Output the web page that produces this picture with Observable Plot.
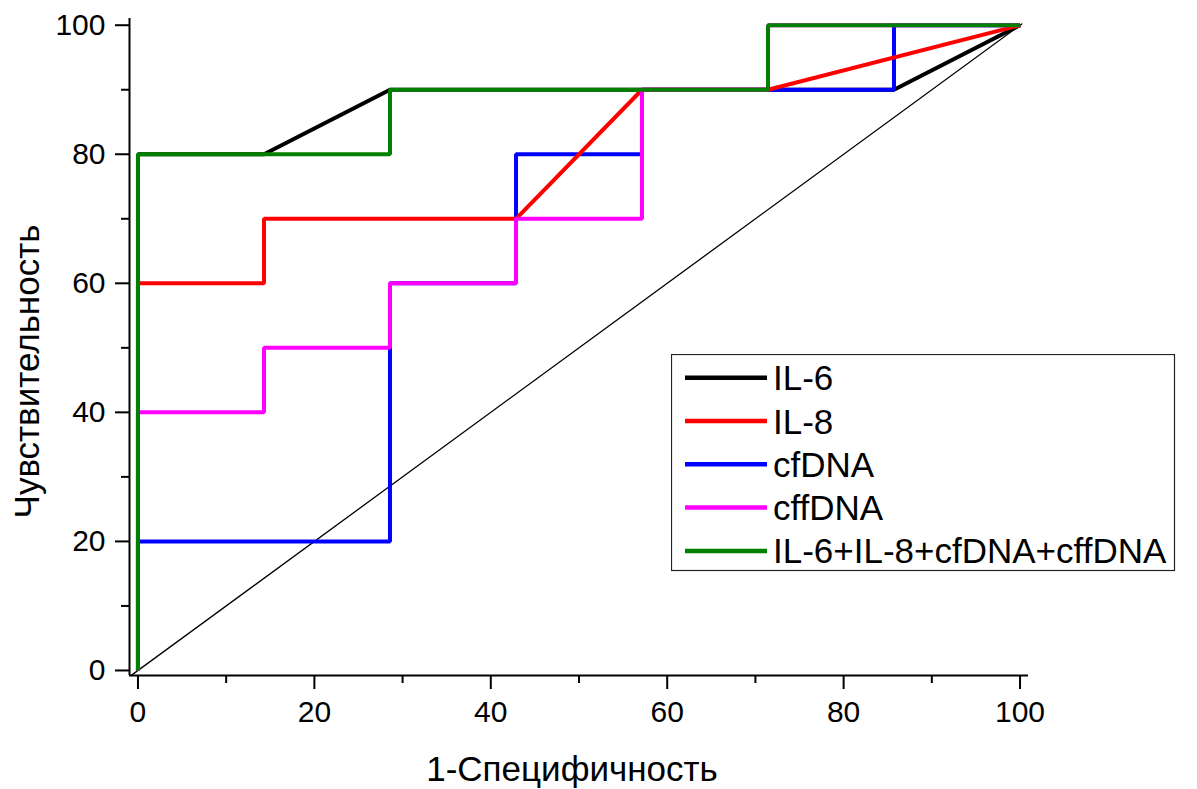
<!DOCTYPE html>
<html>
<head>
<meta charset="utf-8">
<script src="https://cdn.jsdelivr.net/npm/d3@7"></script>
<script src="https://cdn.jsdelivr.net/npm/@observablehq/plot@0.6"></script>
<style>
  html, body { margin: 0; padding: 0; background: #fff; }
  #wrap { position: relative; width: 1197px; height: 789px; }
  #legend { position: absolute; left: 671px; top: 354px; }
</style>
</head>
<body>
<div id="wrap"></div>
<script>
// ---- data ----
const seriesNames = ["IL-6", "IL-8", "cfDNA", "cffDNA", "IL-6+IL-8+cfDNA+cffDNA"];
const seriesColors = ["#000000", "#ff0000", "#0000ff", "#ff00ff", "#008000"];

const il6X = [0, 0, 14.29, 28.57, 85.71, 100];
const il6Y = [0, 80, 80, 90, 90, 100];
const il8X = [0, 0, 14.29, 14.29, 42.86, 57.14, 71.43, 100];
const il8Y = [0, 60, 60, 70, 70, 90, 90, 100];
const cfdnaX = [0, 0, 28.57, 28.57, 42.86, 42.86, 57.14, 57.14, 85.71, 85.71, 100];
const cfdnaY = [0, 20, 20, 60, 60, 80, 80, 90, 90, 100, 100];
const cffdnaX = [0, 0, 14.29, 14.29, 28.57, 28.57, 42.86, 42.86, 57.14, 57.14, 71.43, 71.43, 100];
const cffdnaY = [0, 40, 40, 50, 50, 60, 60, 70, 70, 90, 90, 100, 100];
const comboX = [0, 0, 28.57, 28.57, 71.43, 71.43, 100];
const comboY = [0, 80, 80, 90, 90, 100, 100];

const diagX = [-0.8, 100.2];
const diagY = [-0.8, 100.2];

const majorTicks = [0, 20, 40, 60, 80, 100];
const minorTicks = [10, 30, 50, 70, 90];

const xTitle = "1-Специфичность";
const yTitle = "Чувствительность";

// ---- build table (draw order: black, blue, red, magenta, green) ----
const seriesXY = {
  "IL-6": [il6X, il6Y],
  "IL-8": [il8X, il8Y],
  "cfDNA": [cfdnaX, cfdnaY],
  "cffDNA": [cffdnaX, cffdnaY],
  "IL-6+IL-8+cfDNA+cffDNA": [comboX, comboY]
};
const drawOrder = ["IL-6", "cfDNA", "IL-8", "cffDNA", "IL-6+IL-8+cfDNA+cffDNA"];
const rows = [];
for (const s of drawOrder) {
  const [xs, ys] = seriesXY[s];
  xs.forEach((x, i) => rows.push({series: s, x, y: ys[i]}));
}
const diag = diagX.map((x, i) => ({x, y: diagY[i]}));

const xDomain = [-0.96, 100.96];
const yDomain = [-0.78, 101.04];
const font = "'Liberation Sans', Arial, Helvetica, sans-serif";

const chart = Plot.plot({
  width: 1197,
  height: 789,
  marginLeft: 129,
  marginRight: 169,
  marginTop: 18,
  marginBottom: 114,
  style: {fontFamily: font, fontSize: "30px", color: "#000", background: "#fff", overflow: "visible"},
  x: {domain: xDomain, axis: null},
  y: {domain: yDomain, axis: null},
  color: {domain: seriesNames, range: seriesColors},
  marks: [
    Plot.line(diag, {x: "x", y: "y", stroke: "#000", strokeWidth: 1.3}),
    Plot.line(rows, {x: "x", y: "y", z: "series", stroke: "series", strokeWidth: 4, strokeLinejoin: "miter", strokeLinecap: "butt"}),
    Plot.ruleX([xDomain[0]], {stroke: "#000", strokeWidth: 2}),
    Plot.ruleY([yDomain[0]], {stroke: "#000", strokeWidth: 2}),
    Plot.axisX(majorTicks, {anchor: "bottom", tickSize: 14, tickPadding: 11, strokeWidth: 2, fontSize: 30, label: null, tickFormat: d => String(d)}),
    Plot.axisX(minorTicks, {anchor: "bottom", tickSize: 8, strokeWidth: 2, label: null, tickFormat: () => ""}),
    Plot.axisY(majorTicks, {anchor: "left", tickSize: 14, tickPadding: 10, strokeWidth: 2, fontSize: 30, label: null, tickFormat: d => String(d)}),
    Plot.axisY(minorTicks, {anchor: "left", tickSize: 8, strokeWidth: 2, label: null, tickFormat: () => ""}),
    Plot.text([xTitle], {text: d => d, frameAnchor: "bottom", textAnchor: "middle", lineAnchor: "middle", dx: -7, dy: 94, fontSize: 35}),
    Plot.text([yTitle], {text: d => d, frameAnchor: "left", textAnchor: "middle", lineAnchor: "middle", rotate: -90, dx: -102, dy: 24.5, fontSize: 35})
  ]
});

const wrap = document.getElementById("wrap");
wrap.appendChild(chart);

// ---- legend overlay ----
const lw = 505, lh = 218;
const leg = d3.select(wrap).append("svg")
  .attr("id", "legend")
  .attr("width", lw).attr("height", lh)
  .style("font-family", font);
leg.append("rect").attr("x", 0.5).attr("y", 0.5).attr("width", lw - 2).attr("height", lh - 2)
  .attr("fill", "#fff").attr("stroke", "#222").attr("stroke-width", 1.2);
seriesNames.forEach((name, i) => {
  const cy = 23.7 + i * 43.3;
  leg.append("line").attr("x1", 14).attr("x2", 96).attr("y1", cy).attr("y2", cy)
    .attr("stroke", seriesColors[i]).attr("stroke-width", 4.5);
  leg.append("text").attr("x", 102).attr("y", cy + 12.5)
    .attr("font-size", 35).attr("fill", "#000").text(name);
});
</script>
</body>
</html>
